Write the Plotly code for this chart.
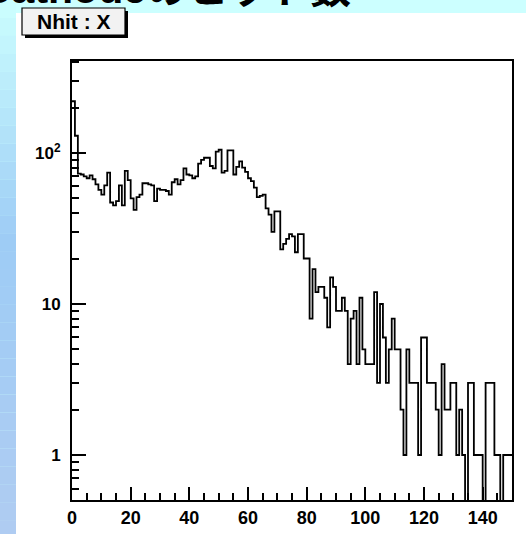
import plotly.graph_objects as go

# ---------------- data ----------------
# Nhit histogram, 150 bins of width 1 from 0 to 150
bin_edges_start = 0
bin_width = 1
counts_0_49 = [220, 130, 73, 72, 70, 68, 71, 67, 62, 57,
               53, 61, 74, 47, 45, 48, 61, 45, 76, 66,
               50, 42, 51, 53, 63, 63, 62, 61, 48, 58,
               57, 57, 56, 53, 64, 67, 62, 66, 79, 72,
               71, 68, 70, 85, 90, 93, 93, 82, 79, 102]
counts_50_99 = [105, 74, 76, 104, 104, 72, 81, 88, 80, 75,
                68, 65, 59, 51, 52, 53, 43, 39, 30, 41,
                41, 23, 25, 27, 29, 28, 22, 29, 29, 20,
                20, 8, 17, 12, 13, 13, 11, 7, 15, 13,
                9, 9, 11, 9, 4, 8, 9, 4, 11, 5]
counts_100_149 = [4, 4, 4, 12, 3, 10, 6, 3, 5, 8,
                  5, 5, 2, 1, 5, 3, 3, 3, 1, 6,
                  6, 3, 3, 3, 2, 1, 4, 2, 2, 3,
                  3, 1, 2, 1, 0, 3, 3, 1, 1, 1,
                  0, 3, 3, 3, 1, 1, 0, 1, 1, 1]

x_tick_vals = [0, 20, 40, 60, 80, 100, 120, 140]
x_tick_text = ["0", "20", "40", "60", "80", "100", "120", "140"]
y_tick_vals = [1, 10, 100]
y_tick_text = ["1", "10", "10<sup>2</sup>"]
y_minor_vals = [0.6, 0.7, 0.8, 0.9, 2, 3, 4, 5, 6, 7, 8, 9,
                20, 30, 40, 50, 60, 70, 80, 90, 200, 300, 400]

title_text = "Cathodeのヒット数"
stat_label = "Nhit : X"

# ---------------- layout geometry ----------------
W, H = 526, 534
L, R, T, B = 72, 512, 61, 500   # plot-area pixel edges


def px_x(p):
    return (p - L) / (R - L)


def px_y(p):
    return (B - p) / (B - T)


counts = counts_0_49 + counts_50_99 + counts_100_149
nb = len(counts)
edges = [bin_edges_start + i * bin_width for i in range(nb + 1)]
# empty bins are drawn below the visible range (clipped at the frame, like ROOT)
ydraw = [c if c > 0 else 1e-2 for c in counts]
xs = edges[:-1] + [edges[-1]]
ys = ydraw + [ydraw[-1]]

fig = go.Figure()
fig.add_trace(go.Scatter(
    x=xs, y=ys, mode="lines", line=dict(shape="hv", color="black", width=1.8),
    hoverinfo="skip", showlegend=False))

shapes = []
# white panel
shapes.append(dict(type="rect", xref="paper", yref="paper", layer="below",
                   x0=px_x(16), x1=px_x(W + 4), y0=px_y(H + 4), y1=px_y(13),
                   fillcolor="white", line=dict(width=0)))
# left gradient strip
nband = 30
c_top = (204, 255, 255)
c_mid = (158, 204, 246)
c_bot = (176, 204, 242)
for i in range(nband):
    y0p = i * (H + 4) / nband
    y1p = (i + 1) * (H + 4) / nband
    t = (y0p + y1p) / 2 / H
    if t < 0.45:
        f = t / 0.45
        c = [c_top[k] + (c_mid[k] - c_top[k]) * f for k in range(3)]
    else:
        f = (t - 0.45) / 0.55
        c = [c_mid[k] + (c_bot[k] - c_mid[k]) * f for k in range(3)]
    shapes.append(dict(type="rect", xref="paper", yref="paper", layer="below",
                       x0=px_x(-4), x1=px_x(16), y0=px_y(y1p), y1=px_y(y0p),
                       fillcolor="rgb(%d,%d,%d)" % tuple(int(v) for v in c),
                       line=dict(width=0)))
# stat box shadow and box
shapes.append(dict(type="rect", xref="paper", yref="paper", layer="above",
                   x0=px_x(25), x1=px_x(128), y0=px_y(38), y1=px_y(11),
                   fillcolor="black", line=dict(width=0)))
shapes.append(dict(type="rect", xref="paper", yref="paper", layer="above",
                   x0=px_x(22), x1=px_x(125), y0=px_y(35), y1=px_y(8),
                   fillcolor="#f2f2f2", line=dict(color="black", width=1.2)))

annotations = [
    dict(text=title_text, xref="paper", yref="paper", x=px_x(353), y=px_y(14),
         xanchor="right", yanchor="bottom", showarrow=False,
         font=dict(family="Liberation Sans, Noto Sans CJK JP", size=41, color="black",
                   weight="bold")),
    dict(text=stat_label, xref="paper", yref="paper", x=px_x(73.5), y=px_y(22),
         xanchor="center", yanchor="middle", showarrow=False,
         font=dict(family="Liberation Sans, Arial", size=21, color="black", weight="bold")),
]

fig.update_layout(
    width=W, height=H, autosize=False,
    margin=dict(l=L, r=W - R, t=T, b=H - B, pad=0, autoexpand=False),
    paper_bgcolor="#ccffff", plot_bgcolor="white",
    shapes=shapes, annotations=annotations,
    xaxis=dict(range=[0, 150], tickmode="array", tickvals=x_tick_vals, ticktext=x_tick_text,
               ticks="inside", ticklen=13, tickwidth=1.5, tickcolor="black",
               minor=dict(dtick=5, tick0=0, ticks="inside", ticklen=7, tickwidth=1.5,
                          tickcolor="black", showgrid=False),
               showline=True, mirror=True, linecolor="black", linewidth=2,
               showgrid=False, zeroline=False, automargin=False,
               tickfont=dict(family="Liberation Sans, Arial", size=18, color="black",
                             weight="bold")),
    yaxis=dict(type="log", range=[-0.298, 2.609], tickmode="array",
               tickvals=y_tick_vals, ticktext=y_tick_text,
               ticks="inside", ticklen=14, tickwidth=1.5, tickcolor="black",
               minor=dict(tickmode="array", tickvals=y_minor_vals, ticks="inside",
                          ticklen=7, tickwidth=1.5, tickcolor="black", showgrid=False),
               showline=True, mirror=True, linecolor="black", linewidth=2,
               showgrid=False, zeroline=False, ticklabelstandoff=6, automargin=False,
               tickfont=dict(family="Liberation Sans, Arial", size=17, color="black",
                             weight="bold")),
)

fig.write_html("out.html", config={"displayModeBar": False},
               post_script="document.body.style.margin='0';document.body.style.padding='0';")
